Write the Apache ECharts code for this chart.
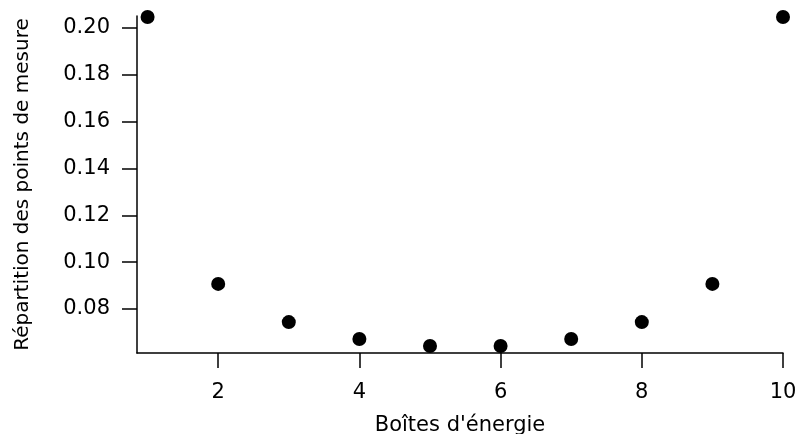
<!doctype html>
<html lang="fr">
<head>
    <meta charset="utf-8">
    <title>Répartition des points de mesure</title>
    <script src="https://cdn.jsdelivr.net/npm/echarts@6/dist/echarts.min.js"></script>
    <style>
        html, body { margin: 0; padding: 0; background: #fff; }
    </style>
</head>
<body>

<div id="main" style="width:795px;height:434px;"></div>

<script>
    // boîtes d'énergie
    var boites = [1, 2, 3, 4, 5, 6, 7, 8, 9, 10];
    // répartition
    var repartition = [0.2047, 0.0907, 0.0744, 0.0672, 0.0642, 0.0642, 0.0672, 0.0744, 0.0907, 0.2047];
    var xTicks = [2, 4, 6, 8, 10];
    var yTicks = [0.08, 0.10, 0.12, 0.14, 0.16, 0.18, 0.20];

    var points = [];
    for (var i = 0; i < boites.length; i++) {
        points.push([boites[i], repartition[i]]);
    }

    var police = 'DejaVu Sans';
    var myChart = echarts.init(document.getElementById('main'));

    var option = {
        backgroundColor: '#fff',
        animation: false,
        grid: {
            left: 137,
            right: 12,
            top: 16,
            bottom: 81,
            outerBoundsMode: 'none',
            containLabel: false
        },
        xAxis: {
            type: 'value',
            min: 0.85,
            max: 10,
            name: "Boîtes d'énergie",
            nameLocation: 'middle',
            nameGap: 62,
            nameTextStyle: { color: '#000', fontSize: 21, fontFamily: police },
            splitLine: { show: false },
            axisLine: { lineStyle: { color: '#000', width: 1.5 } },
            axisTick: {
                length: 15,
                customValues: xTicks,
                lineStyle: { color: '#000', width: 1.5 }
            },
            axisLabel: {
                customValues: xTicks,
                margin: 29,
                color: '#000',
                fontSize: 21,
                fontFamily: police
            }
        },
        yAxis: {
            type: 'value',
            min: 0.0612,
            max: 0.2051,
            name: 'Répartition des points de mesure',
            nameLocation: 'middle',
            nameGap: 104,
            nameTextStyle: { color: '#000', fontSize: 20, fontFamily: police },
            splitLine: { show: false },
            axisLine: { show: true, lineStyle: { color: '#000', width: 1.5 } },
            axisTick: {
                show: true,
                length: 15,
                customValues: yTicks,
                lineStyle: { color: '#000', width: 1.5 }
            },
            axisLabel: {
                customValues: yTicks,
                margin: 27,
                color: '#000',
                fontSize: 21,
                fontFamily: police,
                formatter: function (v) { return v.toFixed(2); }
            }
        },
        series: [{
            type: 'scatter',
            symbol: 'circle',
            symbolSize: 14,
            itemStyle: { color: '#000', opacity: 1 },
            data: points
        }]
    };

    myChart.setOption(option);
</script>
</body>
</html>
